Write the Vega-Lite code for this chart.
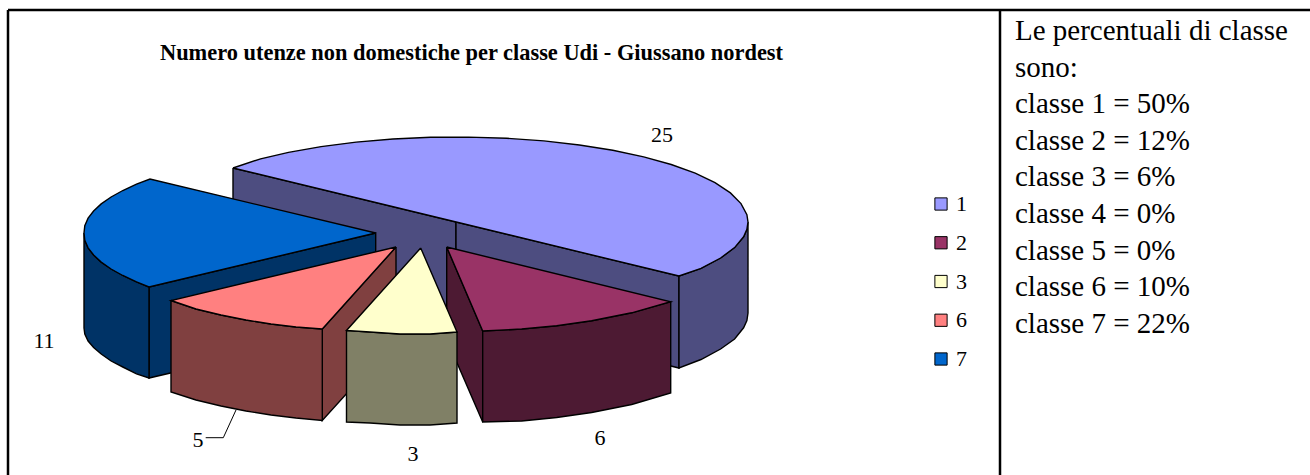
{
"$schema":"https://vega.github.io/schema/vega-lite/v6.json",
"width":1310,"height":475,"padding":0,"autosize":{"type":"none"},
"background":"white",
"view":{"stroke":null},
"datasets":{
"facce":[
{"face":"w1","tipo":"1 lato","ord":1,"x":233,"y":168},{"face":"w1","tipo":"1 lato","ord":2,"x":456,"y":222},{"face":"w1","tipo":"1 lato","ord":3,"x":456,"y":313},{"face":"w1","tipo":"1 lato","ord":4,"x":233,"y":259},{"face":"w1","tipo":"1 lato","ord":5,"x":233,"y":168},
{"face":"w2","tipo":"1 lato","ord":1,"x":456,"y":222},{"face":"w2","tipo":"1 lato","ord":2,"x":679,"y":276},{"face":"w2","tipo":"1 lato","ord":3,"x":679,"y":368},{"face":"w2","tipo":"1 lato","ord":4,"x":456,"y":313},{"face":"w2","tipo":"1 lato","ord":5,"x":456,"y":222},
{"face":"o1","tipo":"1 lato","ord":1,"x":679,"y":276},{"face":"o1","tipo":"1 lato","ord":2,"x":701,"y":268.3},{"face":"o1","tipo":"1 lato","ord":3,"x":720.6,"y":258},{"face":"o1","tipo":"1 lato","ord":4,"x":734.6,"y":247.6},{"face":"o1","tipo":"1 lato","ord":5,"x":743.6,"y":236.8},{"face":"o1","tipo":"1 lato","ord":6,"x":746.9,"y":229.4},{"face":"o1","tipo":"1 lato","ord":7,"x":748,"y":222},{"face":"o1","tipo":"1 lato","ord":8,"x":748,"y":313},{"face":"o1","tipo":"1 lato","ord":9,"x":746.9,"y":320.5},{"face":"o1","tipo":"1 lato","ord":10,"x":743.6,"y":327.8},{"face":"o1","tipo":"1 lato","ord":11,"x":734.6,"y":339},{"face":"o1","tipo":"1 lato","ord":12,"x":720.6,"y":349},{"face":"o1","tipo":"1 lato","ord":13,"x":701,"y":359.5},{"face":"o1","tipo":"1 lato","ord":14,"x":679,"y":368},{"face":"o1","tipo":"1 lato","ord":15,"x":679,"y":276},
{"face":"t1","tipo":"1","ord":1,"x":233,"y":168},{"face":"t1","tipo":"1","ord":2,"x":260.6,"y":158.8},{"face":"t1","tipo":"1","ord":3,"x":288.5,"y":152.4},{"face":"t1","tipo":"1","ord":4,"x":321.1,"y":146.6},{"face":"t1","tipo":"1","ord":5,"x":356.1,"y":142.1},{"face":"t1","tipo":"1","ord":6,"x":392.9,"y":139},{"face":"t1","tipo":"1","ord":7,"x":430.5,"y":137.3},{"face":"t1","tipo":"1","ord":8,"x":468.7,"y":137.1},{"face":"t1","tipo":"1","ord":9,"x":506.7,"y":138.3},{"face":"t1","tipo":"1","ord":10,"x":543.9,"y":140.9},{"face":"t1","tipo":"1","ord":11,"x":579.4,"y":145},{"face":"t1","tipo":"1","ord":12,"x":612.8,"y":150.3},{"face":"t1","tipo":"1","ord":13,"x":643.7,"y":156.9},{"face":"t1","tipo":"1","ord":14,"x":671.2,"y":164.5},{"face":"t1","tipo":"1","ord":15,"x":695.2,"y":173.2},{"face":"t1","tipo":"1","ord":16,"x":715,"y":182.7},{"face":"t1","tipo":"1","ord":17,"x":730.4,"y":192.9},{"face":"t1","tipo":"1","ord":18,"x":741,"y":203.6},{"face":"t1","tipo":"1","ord":19,"x":746.9,"y":214.6},{"face":"t1","tipo":"1","ord":20,"x":748,"y":222},{"face":"t1","tipo":"1","ord":21,"x":746.9,"y":229.4},{"face":"t1","tipo":"1","ord":22,"x":743.6,"y":236.8},{"face":"t1","tipo":"1","ord":23,"x":734.6,"y":247.6},{"face":"t1","tipo":"1","ord":24,"x":720.6,"y":258},{"face":"t1","tipo":"1","ord":25,"x":701,"y":268.3},{"face":"t1","tipo":"1","ord":26,"x":679,"y":276},{"face":"t1","tipo":"1","ord":27,"x":233,"y":168},
{"face":"w7","tipo":"7 lato","ord":1,"x":149,"y":287},{"face":"w7","tipo":"7 lato","ord":2,"x":375.7,"y":233},{"face":"w7","tipo":"7 lato","ord":3,"x":375.7,"y":325},{"face":"w7","tipo":"7 lato","ord":4,"x":149,"y":378},{"face":"w7","tipo":"7 lato","ord":5,"x":149,"y":287},
{"face":"o7","tipo":"7 lato","ord":1,"x":84,"y":233},{"face":"o7","tipo":"7 lato","ord":2,"x":84.8,"y":240.4},{"face":"o7","tipo":"7 lato","ord":3,"x":88.1,"y":247.8},{"face":"o7","tipo":"7 lato","ord":4,"x":93.6,"y":255},{"face":"o7","tipo":"7 lato","ord":5,"x":101.2,"y":262.1},{"face":"o7","tipo":"7 lato","ord":6,"x":111.1,"y":269},{"face":"o7","tipo":"7 lato","ord":7,"x":122.8,"y":275.5},{"face":"o7","tipo":"7 lato","ord":8,"x":136.5,"y":281.8},{"face":"o7","tipo":"7 lato","ord":9,"x":149,"y":287},{"face":"o7","tipo":"7 lato","ord":10,"x":149,"y":378},{"face":"o7","tipo":"7 lato","ord":11,"x":136.5,"y":373.8},{"face":"o7","tipo":"7 lato","ord":12,"x":122.8,"y":367},{"face":"o7","tipo":"7 lato","ord":13,"x":111.1,"y":361},{"face":"o7","tipo":"7 lato","ord":14,"x":101.2,"y":354},{"face":"o7","tipo":"7 lato","ord":15,"x":93.6,"y":347.5},{"face":"o7","tipo":"7 lato","ord":16,"x":88.1,"y":341},{"face":"o7","tipo":"7 lato","ord":17,"x":84.8,"y":334},{"face":"o7","tipo":"7 lato","ord":18,"x":84,"y":328},{"face":"o7","tipo":"7 lato","ord":19,"x":84,"y":233},
{"face":"t7","tipo":"7","ord":1,"x":375.7,"y":233},{"face":"t7","tipo":"7","ord":2,"x":150,"y":179},{"face":"t7","tipo":"7","ord":3,"x":136.5,"y":184.2},{"face":"t7","tipo":"7","ord":4,"x":122.8,"y":190.5},{"face":"t7","tipo":"7","ord":5,"x":111.1,"y":197},{"face":"t7","tipo":"7","ord":6,"x":101.2,"y":203.9},{"face":"t7","tipo":"7","ord":7,"x":93.6,"y":211},{"face":"t7","tipo":"7","ord":8,"x":88.1,"y":218.2},{"face":"t7","tipo":"7","ord":9,"x":84.8,"y":225.6},{"face":"t7","tipo":"7","ord":10,"x":84,"y":233},{"face":"t7","tipo":"7","ord":11,"x":84.8,"y":240.4},{"face":"t7","tipo":"7","ord":12,"x":88.1,"y":247.8},{"face":"t7","tipo":"7","ord":13,"x":93.6,"y":255},{"face":"t7","tipo":"7","ord":14,"x":101.2,"y":262.1},{"face":"t7","tipo":"7","ord":15,"x":111.1,"y":269},{"face":"t7","tipo":"7","ord":16,"x":122.8,"y":275.5},{"face":"t7","tipo":"7","ord":17,"x":136.5,"y":281.8},{"face":"t7","tipo":"7","ord":18,"x":149,"y":287},{"face":"t7","tipo":"7","ord":19,"x":375.7,"y":233},
{"face":"w2a","tipo":"2 lato","ord":1,"x":446.7,"y":247},{"face":"w2a","tipo":"2 lato","ord":2,"x":482.7,"y":331},{"face":"w2a","tipo":"2 lato","ord":3,"x":482.7,"y":422},{"face":"w2a","tipo":"2 lato","ord":4,"x":446.7,"y":339},{"face":"w2a","tipo":"2 lato","ord":5,"x":446.7,"y":247},
{"face":"o2","tipo":"2 lato","ord":1,"x":482.7,"y":331},{"face":"o2","tipo":"2 lato","ord":2,"x":521.7,"y":329},{"face":"o2","tipo":"2 lato","ord":3,"x":556.7,"y":325.7},{"face":"o2","tipo":"2 lato","ord":4,"x":591.7,"y":320.8},{"face":"o2","tipo":"2 lato","ord":5,"x":631.7,"y":312.8},{"face":"o2","tipo":"2 lato","ord":6,"x":670.7,"y":301.7},{"face":"o2","tipo":"2 lato","ord":7,"x":670.7,"y":393},{"face":"o2","tipo":"2 lato","ord":8,"x":631.7,"y":404.5},{"face":"o2","tipo":"2 lato","ord":9,"x":591.7,"y":412.5},{"face":"o2","tipo":"2 lato","ord":10,"x":556.7,"y":417.5},{"face":"o2","tipo":"2 lato","ord":11,"x":521.7,"y":421},{"face":"o2","tipo":"2 lato","ord":12,"x":482.7,"y":422},{"face":"o2","tipo":"2 lato","ord":13,"x":482.7,"y":331},
{"face":"t2","tipo":"2","ord":1,"x":446.7,"y":247},{"face":"t2","tipo":"2","ord":2,"x":670.7,"y":301.7},{"face":"t2","tipo":"2","ord":3,"x":631.7,"y":312.8},{"face":"t2","tipo":"2","ord":4,"x":591.7,"y":320.8},{"face":"t2","tipo":"2","ord":5,"x":556.7,"y":325.7},{"face":"t2","tipo":"2","ord":6,"x":521.7,"y":329},{"face":"t2","tipo":"2","ord":7,"x":482.7,"y":331},{"face":"t2","tipo":"2","ord":8,"x":446.7,"y":247},
{"face":"w6","tipo":"6 lato","ord":1,"x":396,"y":247},{"face":"w6","tipo":"6 lato","ord":2,"x":322.3,"y":329},{"face":"w6","tipo":"6 lato","ord":3,"x":322.3,"y":420.5},{"face":"w6","tipo":"6 lato","ord":4,"x":396,"y":339},{"face":"w6","tipo":"6 lato","ord":5,"x":396,"y":247},
{"face":"o6","tipo":"6 lato","ord":1,"x":171,"y":300.5},{"face":"o6","tipo":"6 lato","ord":2,"x":196,"y":309},{"face":"o6","tipo":"6 lato","ord":3,"x":221,"y":315},{"face":"o6","tipo":"6 lato","ord":4,"x":246,"y":320},{"face":"o6","tipo":"6 lato","ord":5,"x":271,"y":324},{"face":"o6","tipo":"6 lato","ord":6,"x":296,"y":327},{"face":"o6","tipo":"6 lato","ord":7,"x":322.3,"y":329},{"face":"o6","tipo":"6 lato","ord":8,"x":322.3,"y":420.5},{"face":"o6","tipo":"6 lato","ord":9,"x":296,"y":418},{"face":"o6","tipo":"6 lato","ord":10,"x":271,"y":415},{"face":"o6","tipo":"6 lato","ord":11,"x":246,"y":411},{"face":"o6","tipo":"6 lato","ord":12,"x":221,"y":406},{"face":"o6","tipo":"6 lato","ord":13,"x":196,"y":400},{"face":"o6","tipo":"6 lato","ord":14,"x":171,"y":392},{"face":"o6","tipo":"6 lato","ord":15,"x":171,"y":300.5},
{"face":"t6","tipo":"6","ord":1,"x":396,"y":247},{"face":"t6","tipo":"6","ord":2,"x":171,"y":300.5},{"face":"t6","tipo":"6","ord":3,"x":196,"y":309},{"face":"t6","tipo":"6","ord":4,"x":221,"y":315},{"face":"t6","tipo":"6","ord":5,"x":246,"y":320},{"face":"t6","tipo":"6","ord":6,"x":271,"y":324},{"face":"t6","tipo":"6","ord":7,"x":296,"y":327},{"face":"t6","tipo":"6","ord":8,"x":322.3,"y":329},{"face":"t6","tipo":"6","ord":9,"x":396,"y":247},
{"face":"o3","tipo":"3 lato","ord":1,"x":346.5,"y":330.5},{"face":"o3","tipo":"3 lato","ord":2,"x":370,"y":332},{"face":"o3","tipo":"3 lato","ord":3,"x":400,"y":334},{"face":"o3","tipo":"3 lato","ord":4,"x":430,"y":334},{"face":"o3","tipo":"3 lato","ord":5,"x":457,"y":332},{"face":"o3","tipo":"3 lato","ord":6,"x":457,"y":423},{"face":"o3","tipo":"3 lato","ord":7,"x":430,"y":425},{"face":"o3","tipo":"3 lato","ord":8,"x":400,"y":425},{"face":"o3","tipo":"3 lato","ord":9,"x":370,"y":423},{"face":"o3","tipo":"3 lato","ord":10,"x":346.5,"y":422},{"face":"o3","tipo":"3 lato","ord":11,"x":346.5,"y":330.5},
{"face":"t3","tipo":"3","ord":1,"x":420.7,"y":248},{"face":"t3","tipo":"3","ord":2,"x":346.5,"y":330.5},{"face":"t3","tipo":"3","ord":3,"x":370,"y":332},{"face":"t3","tipo":"3","ord":4,"x":400,"y":334},{"face":"t3","tipo":"3","ord":5,"x":430,"y":334},{"face":"t3","tipo":"3","ord":6,"x":457,"y":332},{"face":"t3","tipo":"3","ord":7,"x":420.7,"y":248}
],
"valori":[
{"classe":"1","valore":25,"x":662,"y":142},
{"classe":"2","valore":6,"x":600,"y":445},
{"classe":"3","valore":3,"x":413,"y":461},
{"classe":"6","valore":5,"x":198,"y":447},
{"classe":"7","valore":11,"x":44,"y":348}
],
"testo":[
{"riga":"Le percentuali di classe","x":1015,"y":40},
{"riga":"sono:","x":1015,"y":76.6},
{"riga":"classe 1 = 50%","x":1015,"y":113.2},
{"riga":"classe 2 = 12%","x":1015,"y":149.8},
{"riga":"classe 3 = 6%","x":1015,"y":186.4},
{"riga":"classe 4 = 0%","x":1015,"y":223},
{"riga":"classe 5 = 0%","x":1015,"y":259.6},
{"riga":"classe 6 = 10%","x":1015,"y":296.2},
{"riga":"classe 7 = 22%","x":1015,"y":332.8}
],
"cornice":[
{"x":8,"y":10,"x2":1310,"y2":10},
{"x":8,"y":10,"x2":8,"y2":475},
{"x":1000,"y":10,"x2":1000,"y2":475}
],
"guida":[
{"ord":1,"x":205.7,"y":437.7},{"ord":2,"x":223.3,"y":437.7},{"ord":3,"x":236,"y":410}
],
"titolo":[{"t":"Numero utenze non domestiche per classe Udi - Giussano nordest","x":471.5,"y":60}]
},
"layer":[
{"data":{"name":"cornice"},
 "mark":{"type":"rule","color":"black","strokeWidth":2.5},
 "encoding":{
  "x":{"field":"x","type":"quantitative","scale":{"domain":[0,1310],"nice":false,"zero":false},"axis":null},
  "y":{"field":"y","type":"quantitative","scale":{"domain":[475,0],"nice":false,"zero":false},"axis":null},
  "x2":{"field":"x2"},"y2":{"field":"y2"}}},
{"data":{"name":"facce"},
 "mark":{"type":"line","stroke":"black","strokeWidth":1.4,"strokeJoin":"miter","interpolate":"linear"},
 "encoding":{
  "x":{"field":"x","type":"quantitative","axis":null},
  "y":{"field":"y","type":"quantitative","axis":null},
  "detail":{"field":"face"},
  "order":{"field":"ord","type":"quantitative"},
  "fill":{"field":"tipo","type":"nominal",
   "scale":{"domain":["1","2","3","6","7","1 lato","2 lato","3 lato","6 lato","7 lato"],
            "range":["#9999FF","#993366","#FFFFCC","#FF8080","#0066CC","#4D4D80","#4D1A33","#808066","#804040","#003366"]},
   "legend":{"values":["1","2","3","6","7"],"title":null,"orient":"none","legendX":930,"legendY":193,
     "symbolType":"square","symbolSize":150,"symbolStrokeColor":"black","symbolStrokeWidth":1,"symbolOpacity":1,
     "labelFont":"Liberation Serif","labelFontSize":22,"labelColor":"black","rowPadding":16.75,"labelOffset":4,"columns":1}}}},
{"data":{"name":"guida"},
 "mark":{"type":"line","color":"black","strokeWidth":1},
 "encoding":{"x":{"field":"x","type":"quantitative"},"y":{"field":"y","type":"quantitative"},"order":{"field":"ord","type":"quantitative"}}},
{"data":{"name":"valori"},
 "mark":{"type":"text","font":"Liberation Serif","fontSize":22,"color":"black","align":"center","baseline":"alphabetic"},
 "encoding":{"x":{"field":"x","type":"quantitative"},"y":{"field":"y","type":"quantitative"},"text":{"field":"valore","type":"quantitative"}}},
{"data":{"name":"titolo"},
 "mark":{"type":"text","font":"Liberation Serif","fontSize":22.4,"fontWeight":"bold","color":"black","align":"center","baseline":"alphabetic"},
 "encoding":{"x":{"field":"x","type":"quantitative"},"y":{"field":"y","type":"quantitative"},"text":{"field":"t"}}},
{"data":{"name":"testo"},
 "mark":{"type":"text","font":"Liberation Serif","fontSize":29,"color":"black","align":"left","baseline":"alphabetic"},
 "encoding":{"x":{"field":"x","type":"quantitative"},"y":{"field":"y","type":"quantitative"},"text":{"field":"riga"}}}
]
}
